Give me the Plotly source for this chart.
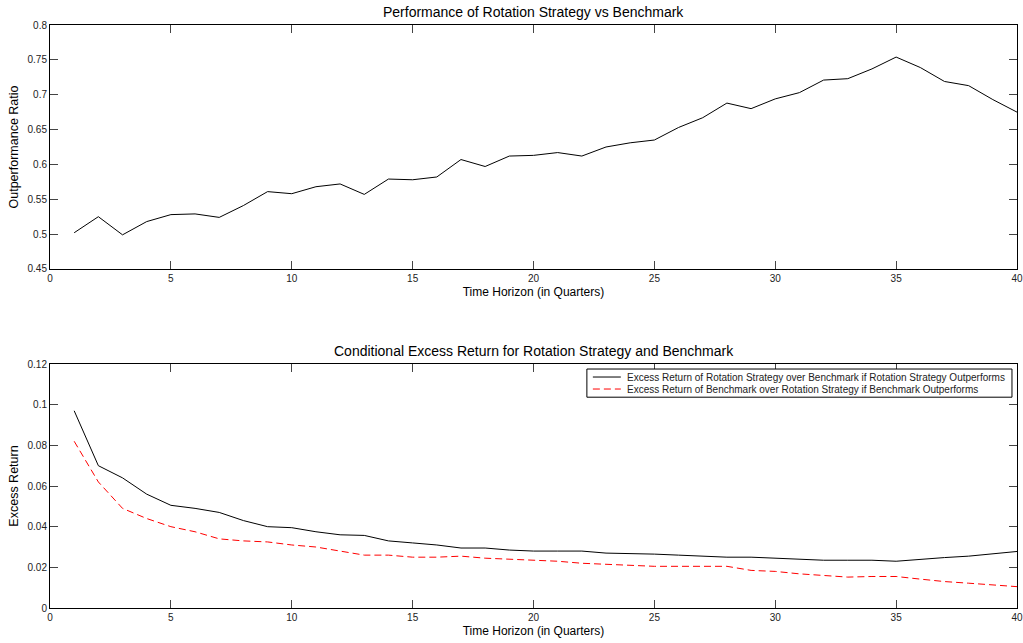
import plotly.graph_objects as go
from plotly.subplots import make_subplots

quarters = list(range(1, 41))

outperformance_ratio = [
    0.502, 0.525, 0.499, 0.518, 0.528, 0.529, 0.524, 0.541, 0.561, 0.558,
    0.568, 0.572, 0.557, 0.579, 0.578, 0.582, 0.607, 0.597, 0.612, 0.613,
    0.617, 0.612, 0.625, 0.631, 0.635, 0.653, 0.667, 0.688, 0.680, 0.694,
    0.703, 0.721, 0.723, 0.737, 0.754, 0.739, 0.719, 0.713, 0.693, 0.675,
]

rotation_excess = [
    0.097, 0.070, 0.064, 0.056, 0.0505, 0.049, 0.047, 0.043, 0.040, 0.0395,
    0.0375, 0.036, 0.0357, 0.033, 0.032, 0.031, 0.0295, 0.0295, 0.0285, 0.028,
    0.028, 0.028, 0.027, 0.0268, 0.0265, 0.026, 0.0255, 0.025, 0.025, 0.0245,
    0.024, 0.0235, 0.0235, 0.0235, 0.023, 0.024, 0.0248, 0.0255, 0.0265, 0.0278,
]

benchmark_excess = [
    0.082, 0.062, 0.049, 0.044, 0.040, 0.0375, 0.034, 0.033, 0.0325, 0.031,
    0.030, 0.028, 0.026, 0.026, 0.025, 0.025, 0.0255, 0.0245, 0.024, 0.0235,
    0.023, 0.022, 0.0215, 0.021, 0.0205, 0.0205, 0.0205, 0.0205, 0.0185, 0.018,
    0.0168, 0.016, 0.0152, 0.0155, 0.0155, 0.0142, 0.013, 0.0122, 0.0115, 0.0105,
]

legend_labels = [
    "Excess Return of Rotation Strategy over Benchmark if Rotation Strategy Outperforms",
    "Excess Return of Benchmark over Rotation Strategy if Benchmark Outperforms",
]

font = "Liberation Sans, Arial, sans-serif"
dashed_red = dict(color="red", width=1, dash="7px,4px")

fig = make_subplots(rows=2, cols=1)

fig.add_trace(go.Scatter(x=quarters, y=outperformance_ratio, mode="lines",
                         line=dict(color="black", width=1)), row=1, col=1)
fig.add_trace(go.Scatter(x=quarters, y=rotation_excess, mode="lines",
                         line=dict(color="black", width=1), name=legend_labels[0]),
              row=2, col=1)
fig.add_trace(go.Scatter(x=quarters, y=benchmark_excess, mode="lines",
                         line=dashed_red, name=legend_labels[1]),
              row=2, col=1)

axis_style = dict(showline=True, linecolor="black", linewidth=1, mirror="ticks",
                  ticks="inside", ticklen=8, tickcolor="#444", showgrid=False,
                  zeroline=False, automargin=False, ticklabeloverflow="allow",
                  tickfont=dict(size=10, color="#222"))

fig.update_xaxes(range=[0, 40], dtick=5, **axis_style)
fig.update_xaxes(title=dict(text="Time Horizon (in Quarters)", font=dict(size=12), standoff=4))
fig.update_yaxes(**axis_style)
fig.update_yaxes(range=[0.45, 0.8], dtick=0.05, row=1, col=1,
                 title=dict(text="Outperformance Ratio", font=dict(size=12.5), standoff=6))
fig.update_yaxes(range=[0, 0.12], dtick=0.02, row=2, col=1,
                 title=dict(text="Excess Return", font=dict(size=12.5), standoff=6))

# legend drawn as a MATLAB-style boxed legend inside the lower axes
box = dict(type="rect", xref="x2 domain", yref="y2 domain", x0=0.5552, x1=0.9948,
           y0=0.864, y1=0.9795, line=dict(color="black", width=1), fillcolor="white")
legend_shapes = [box]
legend_notes = []
for label, yy, style in [(legend_labels[0], 0.9467, dict(color="black", width=1)),
                         (legend_labels[1], 0.8975, dashed_red)]:
    legend_shapes.append(dict(type="line", xref="x2 domain", yref="y2 domain",
                              x0=0.5614, x1=0.5903, y0=yy, y1=yy, line=style))
    legend_notes.append(dict(text=label, xref="x2 domain", yref="y2 domain", x=0.5944, y=yy,
                             xanchor="left", yanchor="middle", showarrow=False,
                             font=dict(size=10, color="#222")))

fig.update_layout(
    width=1023, height=643,
    margin=dict(l=50, r=6, t=25, b=35),
    plot_bgcolor="white", paper_bgcolor="white",
    font=dict(family=font, color="black"),
    showlegend=False,
    yaxis=dict(domain=[0.5815, 1]),
    yaxis2=dict(domain=[0, 0.4185]),
    shapes=legend_shapes,
    annotations=[
        dict(text="Performance of Rotation Strategy vs Benchmark", x=0.5, y=1,
             xref="paper", yref="paper", yanchor="middle", yshift=13,
             showarrow=False, font=dict(size=14)),
        dict(text="Conditional Excess Return for Rotation Strategy and Benchmark", x=0.5, y=0.4185,
             xref="paper", yref="paper", yanchor="middle", yshift=13,
             showarrow=False, font=dict(size=14)),
    ] + legend_notes,
)

# the page's default body margin would shift the 1023x643 figure out of the window
fig.write_html("out.html", config={"displayModeBar": False},
               post_script="document.body.style.margin='0';document.body.style.overflow='hidden';")
